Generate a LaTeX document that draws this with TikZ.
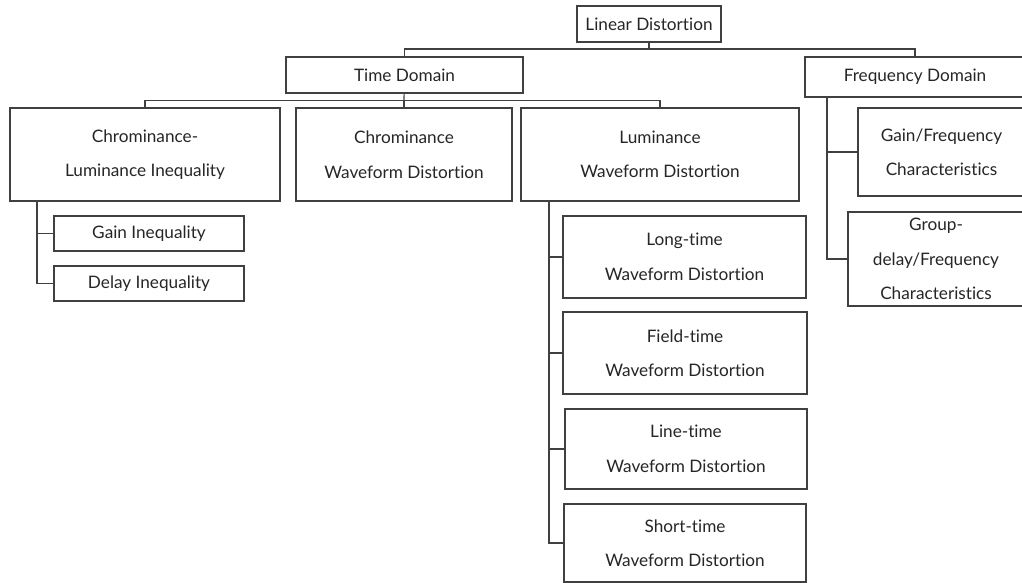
\documentclass[tikz,border=0pt]{standalone}
\usepackage{fontspec}
\setmainfont{Lato}[Ligatures=NoCommon]
\usepackage{tikz}
\usetikzlibrary{positioning}

\begin{document}
\begin{tikzpicture}[
		x=1pt, y=-1pt,
		treebox/.style={
			rectangle,
			draw=black!75,
			line width=1.2pt,
			inner sep=0pt,
			align=center,
			font=\fontsize{17.2}{34.5}\selectfont,
			text=black!85
		},
		link/.style={
			draw=black!75,
			line width=1.2pt
		}
		]
		
		\fill[white] (0,0) rectangle (1022,583);
		\useasboundingbox (0,0) rectangle (1022,583);
		\clip (0,0) rectangle (1022,583);
		
		\node[treebox, minimum width=144pt, minimum height=36pt] (lin) at (649,24) {Linear Distortion};
		
		\node[treebox, minimum width=237pt, minimum height=36pt] (time) at (404.5,75) {Time Domain};
		\node[treebox, minimum width=220pt, minimum height=40pt] (freq) at (915,77) {Frequency Domain};
		
		\node[treebox, minimum width=270pt, minimum height=93pt] (chlum) at (145,154.5) {Chrominance-\\Luminance Inequality};
		\node[treebox, minimum width=216pt, minimum height=93pt] (chwave) at (404,154.5) {Chrominance\\Waveform Distortion};
		\node[treebox, minimum width=278pt, minimum height=93pt] (lumwave) at (660,154.5) {Luminance\\Waveform Distortion};
		
		\node[treebox, minimum width=190pt, minimum height=35pt] (gain) at (149,233.5) {Gain Inequality};
		\node[treebox, minimum width=190pt, minimum height=35pt] (delay) at (149,283.5) {Delay Inequality};
		
		\node[treebox, minimum width=243pt, minimum height=82pt] (longt) at (684.5,257) {Long-time\\Waveform Distortion};
		\node[treebox, minimum width=244pt, minimum height=82pt] (fieldt) at (685,353) {Field-time\\Waveform Distortion};
		\node[treebox, minimum width=242pt, minimum height=80pt] (linet) at (686,449) {Line-time\\Waveform Distortion};
		\node[treebox, minimum width=242pt, minimum height=78pt] (shortt) at (685,543) {Short-time\\Waveform Distortion};
		
		\node[treebox, minimum width=167pt, minimum height=88pt] (gainfq) at (941.5,152) {Gain/Frequency\\Characteristics};
		\node[treebox, minimum width=176pt, minimum height=94pt] (groupfq) at (936,259) {Group-\\delay/Frequency\\Characteristics};
		
		% junctions
		\coordinate (j0) at (649,49);
		\coordinate (j1) at (404,100.5);
		\coordinate (clb) at (37,201);
		\coordinate (lwb) at (549,201);
		\coordinate (fqb) at (827,97);
		
		\draw[link] (lin) -- (j0);
		\draw[link] (j0) -| (time.north);
		\draw[link] (j0) -| (freq.north);
		
		\draw[link] (time) -- (j1);
		\draw[link] (j1) -| (chlum.north);
		\draw[link] (j1) -| (chwave.north);
		\draw[link] (j1) -| (lumwave.north);
		
		\draw[link] (clb) |- (gain.west);
		\draw[link] (clb) |- (delay.west);
		
		\draw[link] (lwb) |- (longt.west);
		\draw[link] (lwb) |- (fieldt.west);
		\draw[link] (lwb) |- (linet.west);
		\draw[link] (lwb) |- (shortt.west);
		
		\draw[link] (fqb) |- (gainfq.west);
		\draw[link] (fqb) |- (groupfq.west);
		
	\end{tikzpicture}
\end{document}
